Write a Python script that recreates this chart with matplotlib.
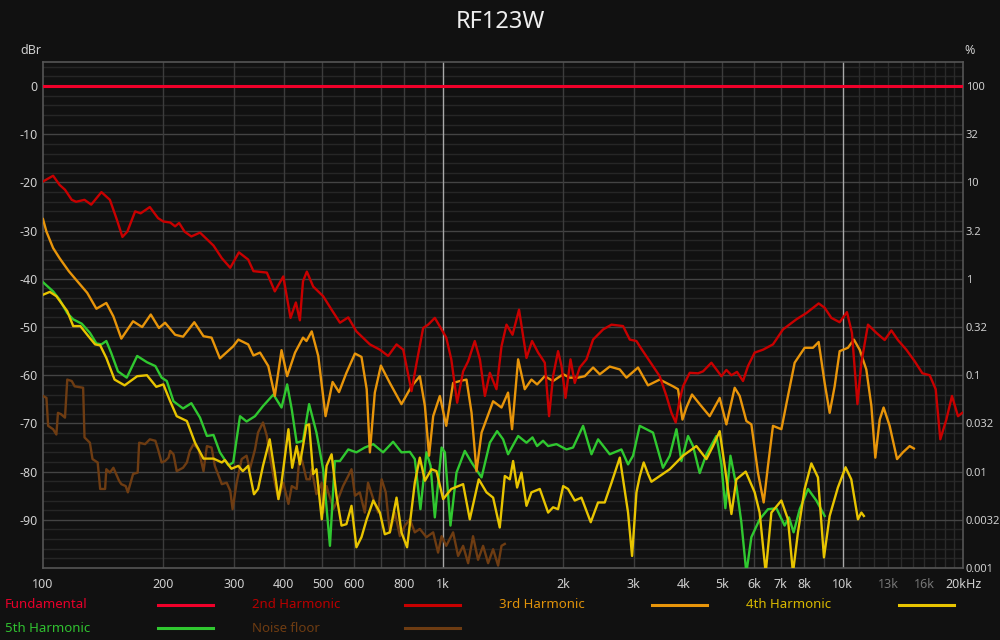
import matplotlib
matplotlib.use('Agg')
import matplotlib.pyplot as plt
from matplotlib.lines import Line2D

plt.rcParams['font.family'] = ['Noto Sans', 'DejaVu Sans']

# ---------------- data ----------------
fund_f = [100, 20000]
fund_db = [0, 0]

h2_f = [100, 106, 110, 113.5, 118, 121, 127, 132, 140, 147, 153, 158, 162.5, 170, 175.5, 185, 194, 200, 208, 214,
        219, 226, 235, 247, 267, 280, 294, 309, 326, 336, 363, 380, 399, 416, 429, 439, 447, 457, 474, 502, 527, 553,
        580, 608, 657, 696, 730, 766, 796, 835, 860, 893, 919, 955, 993, 1020, 1050, 1086, 1124, 1157, 1202, 1238,
        1274, 1311, 1362, 1402, 1443, 1494, 1551, 1619, 1672, 1731, 1799, 1844, 1887, 1942, 1981, 2027, 2086, 2138,
        2200, 2287, 2376, 2517, 2642, 2823, 2935, 3050, 3108, 3292, 3487, 3625, 3731, 3824, 3898, 3988, 4145, 4348,
        4475, 4696, 4974, 5120, 5270, 5443, 5634, 5798, 6026, 6321, 6695, 7092, 7660, 8115, 8710, 9016, 9370, 9830,
        10250, 10550, 10890, 11140, 11570, 12140, 12740, 13240, 13750, 14430, 15140, 15830, 16510, 17090, 17550,
        18170, 18770, 19430, 19930]
h2_db = [-19.8, -18.6, -20.5, -21.5, -23.6, -24.0, -23.6, -24.6, -22.0, -23.6, -27.7, -31.3, -30.2, -26.0, -26.4,
         -25.1, -27.4, -28.1, -28.3, -29.1, -28.4, -30.2, -31.2, -30.4, -33.1, -35.7, -37.7, -34.5, -36.0, -38.4,
         -38.7, -42.6, -39.5, -48.1, -44.9, -48.6, -40.5, -38.5, -41.6, -43.6, -46.4, -49.1, -48.0, -50.9, -53.6,
         -54.7, -56.0, -53.6, -54.7, -63.3, -57.4, -50.2, -49.5, -48.1, -50.5, -52.2, -56.7, -65.7, -59.2, -57.1,
         -52.9, -56.7, -64.3, -59.5, -62.9, -54.0, -49.5, -51.6, -46.4, -56.4, -52.9, -55.3, -57.4, -68.5, -60.2,
         -55.0, -58.1, -64.7, -56.7, -61.6, -58.4, -56.7, -52.6, -50.5, -49.5, -49.8, -52.6, -52.9, -54.0, -57.1,
         -60.2, -64.3, -67.8, -69.8, -65.7, -62.3, -59.5, -59.6, -59.2, -57.4, -60.2, -58.9, -60.0, -59.3, -61.2,
         -58.1, -55.3, -54.7, -53.6, -50.5, -48.4, -47.1, -45.1, -46.0, -48.1, -49.0, -46.9, -51.2, -66.0, -57.4,
         -49.5, -51.2, -52.7, -50.7, -52.7, -54.7, -57.1, -59.6, -60.0, -62.9, -73.3, -69.2, -64.3, -68.5, -67.8]

h3_f = [100, 102, 106, 110, 116, 121, 129, 136, 144, 150, 157, 168, 177, 186, 195, 202, 214, 224, 239, 252, 264,
        277, 299, 308, 326, 336, 349, 366, 380, 395, 408, 427, 447, 456, 470, 488, 509, 530, 550, 574, 603, 626, 645,
        657, 676, 700, 737, 788, 835, 876, 902, 924, 946, 983, 1020, 1061, 1103, 1146, 1180, 1214, 1250, 1336, 1402,
        1456, 1490, 1543, 1603, 1666, 1721, 1799, 1887, 2000, 2077, 2179, 2265, 2376, 2469, 2615, 2771, 2879, 3078,
        3260, 3487, 3765, 3875, 3975, 4067, 4200, 4390, 4650, 4926, 5120, 5370, 5527, 5744, 5912, 6140, 6346, 6505,
        6695, 7027, 7299, 7586, 8035, 8430, 8710, 9016, 9280, 9550, 9830, 10310, 10670, 11030, 11460, 11800, 12070,
        12380, 12660, 13110, 13680, 14150, 14710, 15070]
h3_db = [-27.6, -30.2, -33.6, -35.7, -38.4, -40.2, -42.9, -46.2, -45.0, -47.8, -52.4, -48.8, -50.0, -47.4, -50.2,
         -49.1, -51.6, -52.0, -49.0, -51.9, -52.2, -56.5, -54.0, -52.6, -53.6, -55.9, -55.3, -58.1, -64.3, -54.8,
         -60.2, -55.3, -52.2, -52.9, -50.9, -56.0, -68.5, -61.4, -63.5, -59.5, -55.5, -56.2, -62.9, -76.0, -63.6,
         -58.0, -61.6, -66.0, -62.3, -60.2, -66.4, -76.7, -68.5, -64.3, -70.5, -61.6, -61.2, -60.9, -67.8, -79.9,
         -71.9, -65.4, -66.7, -63.6, -71.2, -56.7, -62.9, -60.9, -61.9, -60.2, -61.2, -59.8, -60.5, -60.5, -60.2,
         -58.4, -59.8, -58.2, -58.8, -60.5, -58.4, -62.1, -60.9, -62.3, -62.9, -69.2, -66.7, -64.0, -66.0, -68.5,
         -64.7, -70.2, -62.6, -64.3, -69.5, -70.2, -80.2, -86.4, -78.8, -70.5, -71.2, -64.3, -57.4, -54.3, -54.3,
         -53.1, -61.6, -67.8, -62.3, -55.0, -54.3, -52.6, -54.7, -58.8, -66.4, -77.1, -69.2, -66.7, -70.5, -77.4,
         -76.0, -74.7, -75.2]

h4_f = [100, 104, 108, 115, 119, 124, 129, 135, 139, 144, 151, 160, 172, 182, 192, 200, 208, 216, 229, 240, 252,
        267, 280, 285, 296, 308, 316, 326, 337, 345, 355, 369, 380, 388, 395, 411, 420, 431, 439, 456, 463, 474, 483,
        498, 512, 527, 542, 558, 574, 591, 608, 626, 645, 670, 696, 716, 737, 766, 788, 814, 851, 876, 902, 937, 964,
        1002, 1050, 1124, 1168, 1230, 1286, 1336, 1388, 1429, 1471, 1499, 1534, 1573, 1619, 1666, 1748, 1834, 1887,
        1942, 2000, 2057, 2138, 2222, 2344, 2445, 2541, 2642, 2771, 2906, 2974, 3050, 3108, 3180, 3260, 3324, 3695,
        3988, 4307, 4563, 4740, 4926, 5070, 5270, 5423, 5722, 6026, 6200, 6420, 6634, 7027, 7299, 7512, 7731, 8035,
        8352, 8675, 8980, 9280, 9730, 10170, 10510, 10920, 11140, 11300]
h4_db = [-43.3, -42.7, -43.6, -46.7, -49.8, -49.8, -51.6, -53.6, -53.8, -56.4, -60.9, -62.1, -60.2, -60.0, -62.4,
         -61.9, -65.4, -68.5, -69.5, -74.0, -77.3, -77.3, -78.1, -77.6, -79.4, -78.8, -79.9, -78.8, -84.7, -83.6,
         -78.8, -73.3, -80.2, -85.7, -82.3, -71.2, -79.2, -74.7, -78.5, -70.4, -70.2, -80.5, -79.5, -89.9, -78.8,
         -76.4, -85.0, -91.2, -90.9, -87.1, -95.7, -93.6, -89.9, -86.0, -88.5, -93.0, -92.6, -85.4, -92.6, -95.7,
         -82.3, -77.1, -81.9, -79.5, -79.9, -85.7, -83.6, -82.6, -89.9, -81.6, -84.3, -85.4, -91.6, -80.9, -81.6,
         -77.8, -83.3, -80.2, -87.1, -84.3, -83.6, -88.5, -87.4, -87.8, -83.0, -83.6, -86.0, -85.4, -90.5, -86.4,
         -86.4, -82.3, -77.1, -88.5, -97.5, -84.3, -81.0, -78.1, -80.5, -82.1, -79.5, -76.7, -74.7, -77.4, -74.7,
         -71.6, -78.8, -88.8, -81.6, -80.0, -84.3, -88.5, -101.0, -88.5, -86.0, -89.9, -101.0, -92.6, -83.6, -78.3,
         -81.2, -97.8, -89.2, -83.3, -79.1, -81.6, -89.9, -88.5, -89.2]

h5_f = [100, 106, 110, 115, 119, 125, 131, 136, 140, 144, 148, 154, 162, 172, 182, 191, 198, 204, 212, 224, 235,
        247, 257, 267, 277, 291, 299, 311, 323, 339, 355, 377, 395, 408, 419, 431, 447, 463, 483, 502, 522, 537, 553,
        580, 608, 638, 670, 709, 751, 788, 827, 851, 879, 910, 932, 955, 993, 1012, 1045, 1082, 1135, 1180, 1250,
        1311, 1367, 1415, 1456, 1543, 1619, 1676, 1721, 1781, 1834, 1924, 2038, 2117, 2243, 2354, 2445, 2615, 2797,
        2906, 2991, 3108, 3230, 3355, 3553, 3695, 3840, 3952, 4105, 4225, 4390, 4563, 4833, 4974, 5090, 5240, 5423,
        5580, 5744, 5912, 6200, 6505, 6830, 7160, 7340, 7540, 7810, 8190, 8596, 9016]
h5_db = [-40.7, -42.6, -44.3, -47.1, -48.4, -49.3, -51.2, -53.4, -53.6, -52.9, -55.3, -59.2, -60.5, -56.0, -57.3,
         -58.1, -60.5, -61.2, -65.4, -66.9, -65.8, -68.8, -72.6, -72.4, -76.0, -78.7, -78.1, -68.5, -69.6, -68.5,
         -66.4, -64.0, -66.7, -61.9, -67.1, -74.0, -73.6, -66.0, -71.9, -79.5, -95.4, -77.8, -77.8, -75.4, -76.0,
         -75.0, -74.3, -76.0, -73.8, -76.0, -75.9, -77.4, -87.8, -76.0, -78.8, -89.5, -75.0, -76.0, -91.2, -80.2,
         -75.7, -78.1, -81.2, -74.0, -71.6, -73.3, -76.4, -72.6, -74.0, -72.9, -74.7, -73.6, -74.7, -74.3, -75.4,
         -75.0, -70.5, -76.4, -73.3, -76.4, -75.4, -78.5, -76.7, -70.5, -71.2, -71.9, -79.2, -76.7, -71.2, -77.8,
         -72.6, -74.7, -80.3, -76.4, -72.6, -78.5, -87.6, -76.7, -83.0, -90.5, -101.0, -93.6, -89.9, -87.8, -87.6,
         -91.2, -89.5, -92.6, -87.8, -83.6, -86.0, -89.2]

noise_f = [100, 102, 103, 106, 108, 109, 111, 113.5, 115, 118, 120, 126, 127, 131, 133, 137, 139, 143, 144, 147, 150,
           155, 157, 161, 163, 168, 172.5, 174, 180, 185, 191, 194, 198, 202, 206, 208, 212, 216, 224, 229, 233, 238,
           245, 252, 257, 264, 269, 280, 288, 294, 298, 305, 314, 323, 329, 339, 345, 355, 363, 369, 380, 388, 399,
           411, 419, 431, 439, 447, 456, 465, 470, 483, 498, 502, 512, 517, 527, 532, 547, 563, 580, 591, 603, 620,
           638, 650, 670, 689, 703, 720, 737, 759, 781, 804, 827, 851, 876, 910, 946, 973, 993, 1020, 1061, 1092,
           1124, 1157, 1190, 1225, 1261, 1298, 1336, 1375, 1402, 1429]
noise_db = [-64.3, -64.7, -70.5, -71.2, -72.3, -67.8, -68.1, -68.8, -60.9, -61.2, -62.3, -62.6, -72.9, -74.0, -77.4,
            -78.1, -83.6, -83.6, -79.5, -80.2, -79.2, -81.9, -82.6, -83.0, -84.3, -80.5, -80.2, -74.0, -74.3, -73.3,
            -73.6, -75.4, -78.1, -77.8, -77.1, -75.7, -76.4, -79.9, -79.2, -78.1, -75.7, -74.3, -75.4, -79.9, -74.7,
            -75.0, -78.8, -82.6, -82.3, -84.0, -87.8, -82.3, -77.4, -76.7, -79.5, -75.4, -71.9, -69.8, -72.6, -76.7,
            -82.3, -85.7, -82.3, -86.7, -83.0, -83.6, -76.0, -78.5, -81.6, -81.6, -79.5, -84.7, -82.3, -88.5, -83.0,
            -84.3, -86.4, -87.8, -85.7, -83.0, -80.9, -79.5, -85.0, -84.3, -88.5, -82.3, -85.7, -88.5, -81.6, -84.3,
            -92.6, -88.5, -93.4, -91.2, -89.9, -92.6, -91.9, -93.6, -92.6, -96.8, -93.4, -95.4, -92.6, -97.5, -95.4,
            -99.0, -93.4, -98.3, -95.4, -99.0, -96.1, -99.5, -95.4, -95.0]

series_names = ['Fundamental', '2nd Harmonic', '3rd Harmonic', '4th Harmonic', '5th Harmonic', 'Noise floor']
series_colors = ['#f0002a', '#c80000', '#e8950a', '#e8c400', '#30c830', '#6e3c12']
text_colors = ['#e8002a', '#b80000', '#e0920a', '#d8b800', '#30c030', '#6e3c12']

x_ticks = [100, 200, 300, 400, 500, 600, 800, 1000, 2000, 3000, 4000, 5000, 6000, 7000, 8000, 10000, 13000, 16000, 20000]
x_labels = ['100', '200', '300', '400', '500', '600', '800', '1k', '2k', '3k', '4k', '5k', '6k', '7k', '8k', '10k',
            '13k', '16k', '20kHz']
y_ticks = [0, -10, -20, -30, -40, -50, -60, -70, -80, -90]
pct_ticks = [0, -10, -20, -30, -40, -50, -60, -70, -80, -90, -100]
pct_labels = ['100', '32', '10', '3.2', '1', '0.32', '0.1', '0.032', '0.01', '0.0032', '0.001']

# ---------------- figure ----------------
BG = '#111111'
TXT = '#cfcfcf'
fig = plt.figure(figsize=(10, 6.4), dpi=100, facecolor=BG)
ax = fig.add_axes([0.043, 1 - 568 / 640, 0.92, (568 - 62) / 640])
ax.set_facecolor(BG)
ax.set_xscale('log')
ax.set_xlim(100, 20000)
ax.set_ylim(-100, 5)

# grid
for db in range(-98, 5, 2):
    if db % 10 == 0:
        ax.axhline(db, color='#444444', lw=1.0, zorder=1)
    else:
        ax.axhline(db, color='#262626', lw=1.0, zorder=0.5)
vlines = list(range(200, 1000, 100)) + list(range(2000, 10000, 1000))
for f in vlines:
    ax.axvline(f, color='#3c3c3c', lw=1.0, zorder=1)
for f in range(11000, 20000, 1000):
    ax.axvline(f, color='#2a2a2a', lw=1.0, zorder=0.8)
for f in (1000, 10000):
    ax.axvline(f, color='#a8a8a8', lw=1.0, zorder=1.2)

for s in ax.spines.values():
    s.set_color('#555555')
    s.set_linewidth(1.2)

lw = 1.7
ax.plot(noise_f, noise_db, color=series_colors[5], lw=lw, zorder=3)
ax.plot(h5_f, h5_db, color=series_colors[4], lw=lw, zorder=4)
ax.plot(h4_f, h4_db, color=series_colors[3], lw=lw, zorder=5)
ax.plot(h3_f, h3_db, color=series_colors[2], lw=lw, zorder=6)
ax.plot(h2_f, h2_db, color=series_colors[1], lw=lw, zorder=7)
ax.plot(fund_f, fund_db, color=series_colors[0], lw=2.2, zorder=8)

ax.set_xticks(x_ticks)
ax.set_xticklabels(x_labels)
ax.xaxis.set_minor_locator(matplotlib.ticker.NullLocator())
ax.set_yticks(y_ticks)
ax.set_yticklabels([str(v) for v in y_ticks])
ax.tick_params(axis='both', length=0, colors=TXT, labelsize=9)
ax.tick_params(axis='x', pad=7)
ax.tick_params(axis='y', pad=4)
for lab in ax.get_xticklabels():
    if lab.get_text() in ('13k', '16k'):
        lab.set_color('#777777')

ax2 = ax.twinx()
ax2.set_ylim(-100, 5)
ax2.set_yticks(pct_ticks)
ax2.set_yticklabels(pct_labels)
ax2.tick_params(axis='y', length=0, colors=TXT, labelsize=8, pad=2)
for s in ax2.spines.values():
    s.set_visible(False)

fig.text(0.5, 1 - 22 / 640, 'RF123W', color='#eeeeee', fontsize=17, ha='center', va='center')
fig.text(20 / 1000, 1 - 50 / 640, 'dBr', color=TXT, fontsize=9, ha='left', va='center')
fig.text(964 / 1000, 1 - 50 / 640, '%', color=TXT, fontsize=9, ha='left', va='center')

# legend (label then line sample)
col_x = [5, 252, 499, 746]
row_y = [605, 628]
for i, (name, lc, tc) in enumerate(zip(series_names, series_colors, text_colors)):
    r, c = divmod(i, 4)
    x0 = col_x[c]
    y0 = 1 - row_y[r] / 640
    fig.text(x0 / 1000, y0, name, color=tc, fontsize=9.5, ha='left', va='center')
    fig.add_artist(Line2D([(x0 + 153) / 1000, (x0 + 208) / 1000], [y0, y0], color=lc, lw=2.2,
                          transform=fig.transFigure))

fig.savefig('out.png', dpi=100, facecolor=BG)
